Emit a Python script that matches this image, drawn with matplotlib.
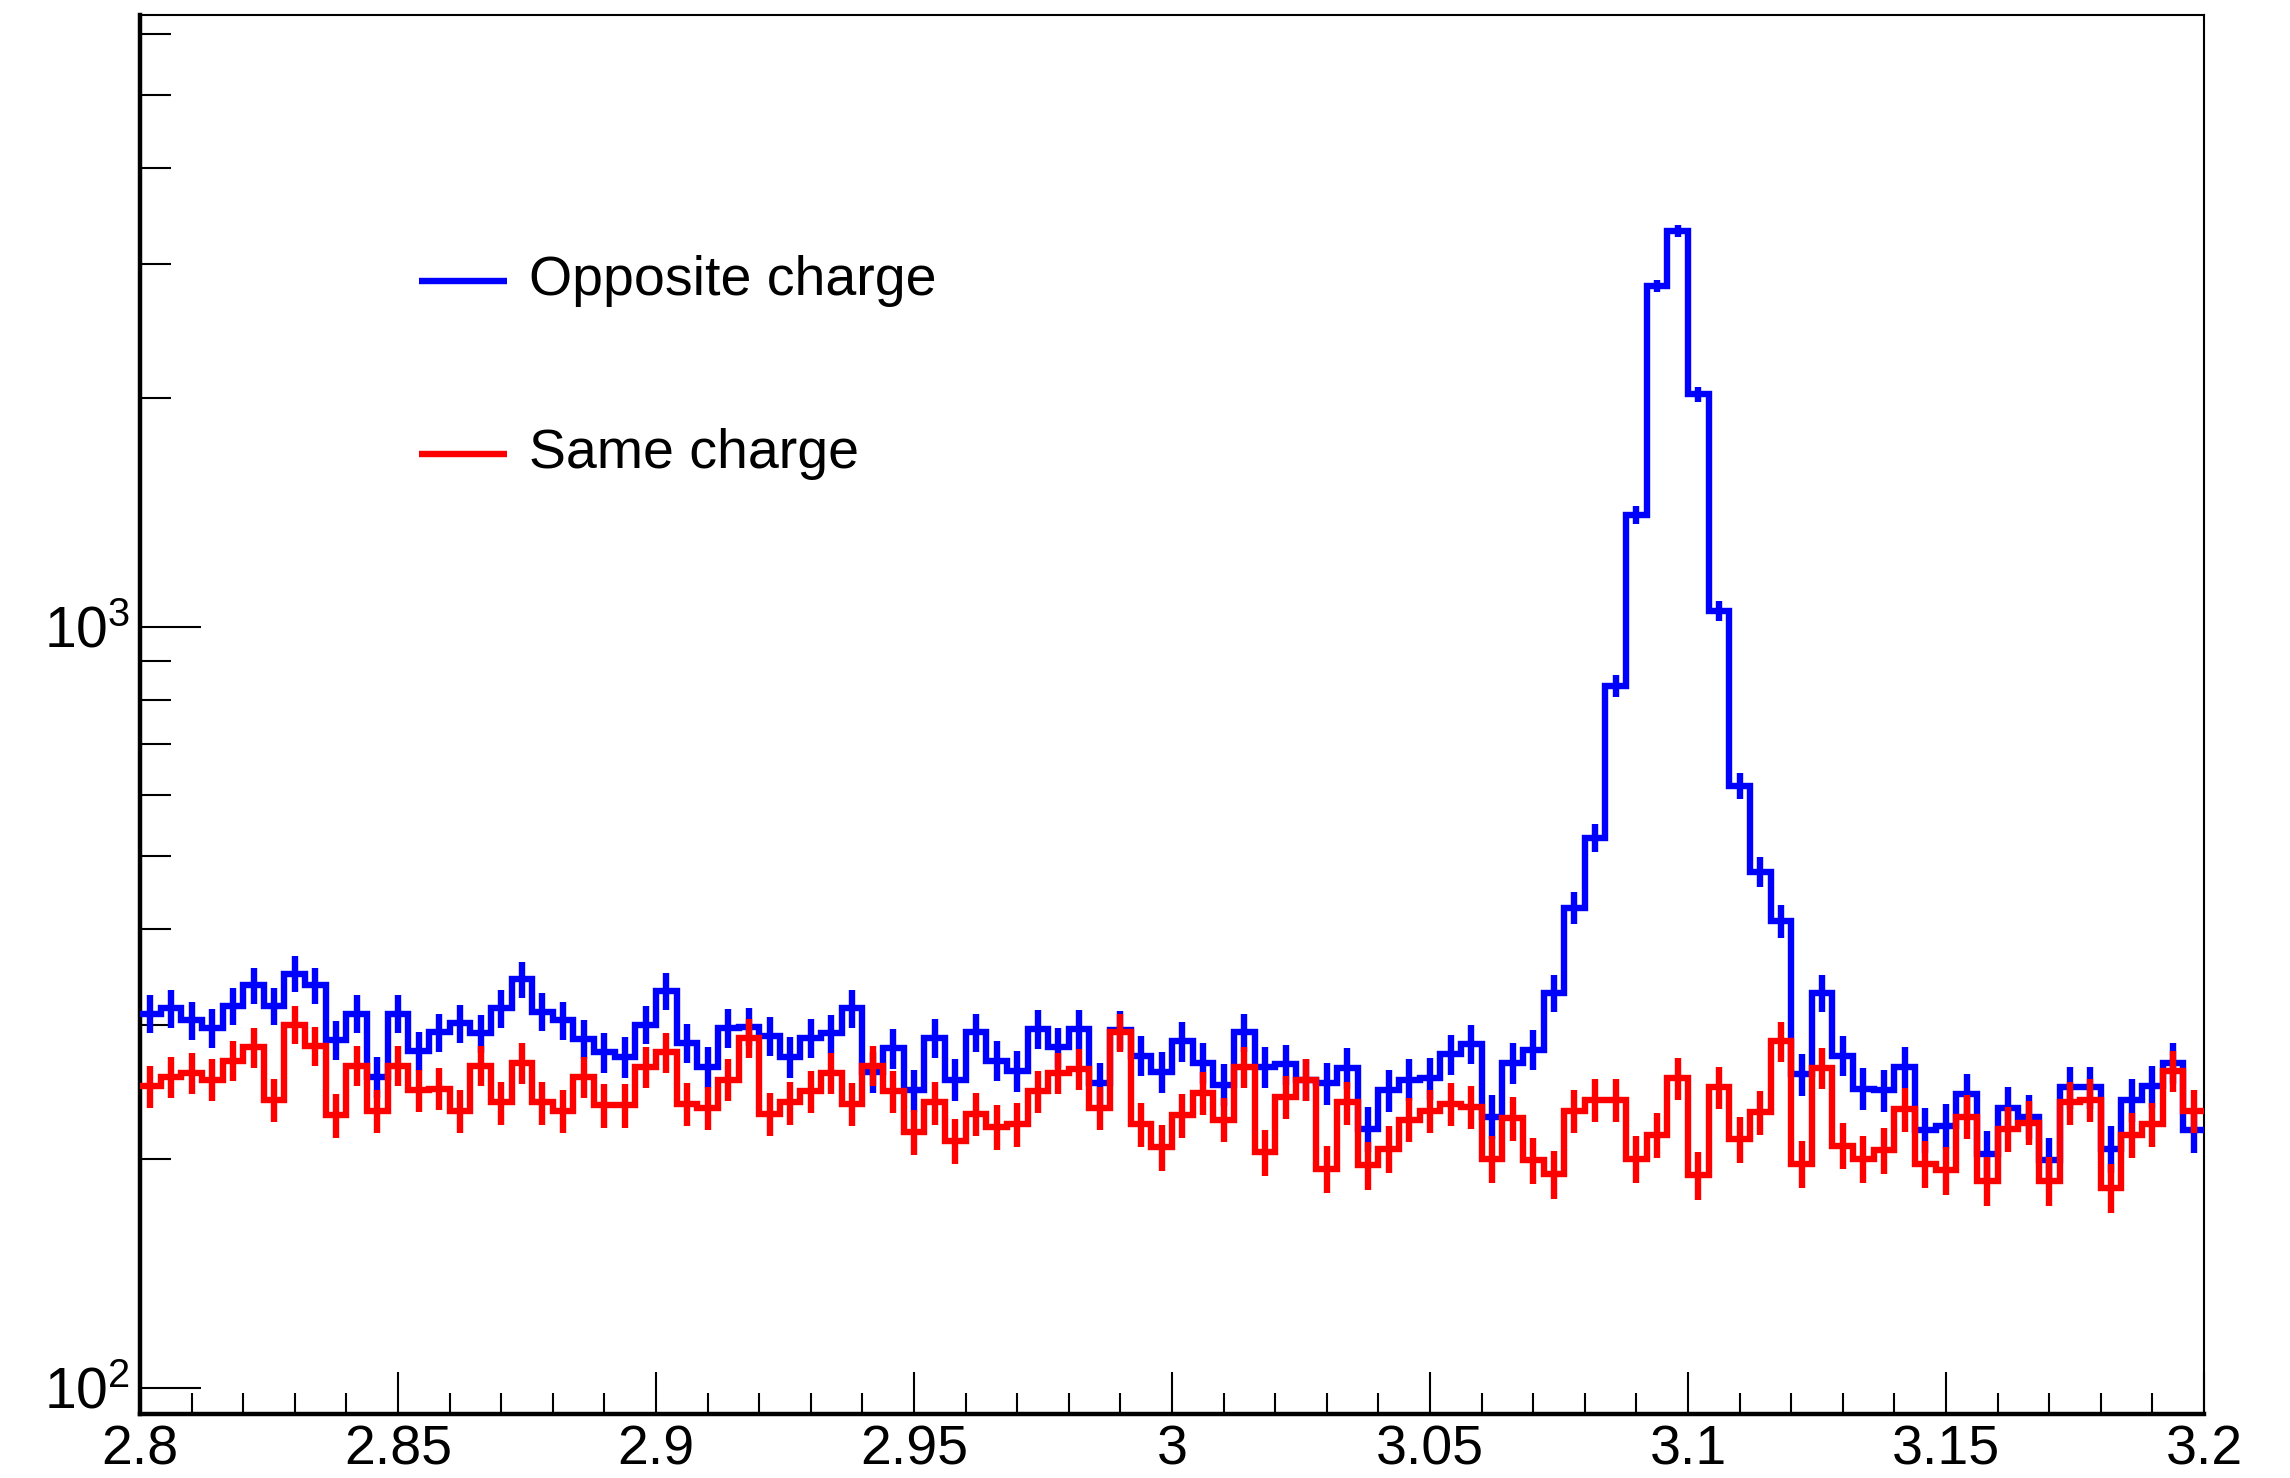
import numpy as np
import matplotlib
matplotlib.use("Agg")
import matplotlib.pyplot as plt
from matplotlib.ticker import LogLocator, MultipleLocator, FixedLocator, FuncFormatter

plt.rcParams["font.family"] = ["Liberation Sans", "DejaVu Sans"]
plt.rcParams["mathtext.default"] = "regular"

# 100 bins of 0.004 between 2.8 and 3.2 (dimuon mass)
X_LO, X_HI, N_BINS = 2.8, 3.2, 100

opposite = [310, 315, 304, 297, 317, 338, 317, 350, 338, 286,
            310, 256, 310, 277, 293, 301, 292, 315, 344, 312,
            304, 287, 276, 272, 300, 332, 284, 264, 297, 298,
            290, 272, 288, 292, 315, 260, 279, 246, 288, 254,
            293, 269, 261, 296, 280, 296, 251, 295, 273, 260,
            285, 267, 250, 293, 264, 266, 254, 251, 263, 219,
            246, 254, 255, 274, 283, 227, 267, 278, 330, 427,
            528, 836, 1402, 2805, 3313, 2021, 1049, 618, 476, 410,
            258, 330, 273, 247, 246, 264, 218, 221, 243, 203,
            233, 227, 199, 248, 248, 206, 239, 249, 267, 218]

same = [249, 256, 259, 254, 269, 280, 239, 300, 281, 228,
        265, 231, 265, 246, 247, 231, 265, 237, 267, 237,
        231, 256, 235, 235, 264, 276, 236, 233, 254, 288,
        229, 237, 245, 259, 236, 265, 245, 217, 237, 211,
        229, 220, 222, 245, 259, 262, 233, 293, 222, 207,
        228, 244, 225, 264, 204, 241, 254, 194, 237, 196,
        206, 225, 231, 236, 234, 200, 226, 199, 191, 231,
        239, 239, 200, 215, 255, 190, 248, 212, 230, 285,
        197, 263, 208, 200, 205, 232, 197, 193, 227, 187,
        219, 223, 187, 237, 239, 183, 215, 222, 261, 231]

series = [("Opposite charge", opposite, "#0000ff"),
          ("Same charge", same, "#ff0000")]

LW = 4.6

fig = plt.figure(figsize=(22.9, 14.78), dpi=100, facecolor="white")
ax = fig.add_axes([140 / 2290, 1 - 1413.7 / 1478, 2064 / 2290, 1399 / 1478])

edges = np.linspace(X_LO, X_HI, N_BINS + 1)
centers = 0.5 * (edges[:-1] + edges[1:])
for label, vals, col in series:
    vals = np.asarray(vals, dtype=float)
    ax.stairs(vals, edges, baseline=None, color=col, lw=LW, zorder=3)
    ax.errorbar(centers, vals, yerr=np.sqrt(vals), fmt="none", ecolor=col,
                elinewidth=LW, capsize=0, zorder=3)

ax.set_yscale("log")
ax.set_xlim(X_LO, X_HI)
ax.set_ylim(92.4, 6370)

# ROOT-like axes: ticks inside, thick left/bottom axis lines
ax.xaxis.set_major_locator(MultipleLocator(0.05))
ax.xaxis.set_minor_locator(MultipleLocator(0.01))
ax.xaxis.set_major_formatter(FuncFormatter(lambda v, p: f"{v:g}"))
ax.yaxis.set_major_locator(FixedLocator([100, 1000]))
ax.yaxis.set_minor_locator(LogLocator(base=10, subs=np.arange(2, 10), numticks=20))
ax.yaxis.set_minor_formatter(FuncFormatter(lambda v, p: ""))
ax.yaxis.set_major_formatter(FuncFormatter(
    lambda v, p: f"$10^{{{int(round(np.log10(v)))}}}$"))

ax.tick_params(axis="x", which="major", direction="in", length=30, width=1.5,
               labelsize=40, pad=8)
ax.tick_params(axis="x", which="minor", direction="in", length=15, width=1.5)
ax.tick_params(axis="y", which="major", direction="in", length=44, width=1.5,
               labelsize=41, pad=7)
ax.tick_params(axis="y", which="minor", direction="in", length=22, width=1.5)

for side in ("top", "right"):
    ax.spines[side].set_linewidth(1.5)
for side in ("left", "bottom"):
    ax.spines[side].set_linewidth(3.2)

# legend drawn by hand, ROOT TLegend style (no frame)
for i, (label, vals, col) in enumerate(series):
    yl = 1 - (280.5 + i * 173.5 - 14.6) / 1399
    ax.plot([(419 - 140) / 2064, (507 - 140) / 2064], [yl, yl],
            transform=ax.transAxes, color=col, lw=LW, solid_capstyle="butt")
    ax.text((529 - 140) / 2064, yl, label, transform=ax.transAxes,
            fontsize=40, va="center", ha="left")

fig.savefig("out.png", dpi=100, facecolor="white")
